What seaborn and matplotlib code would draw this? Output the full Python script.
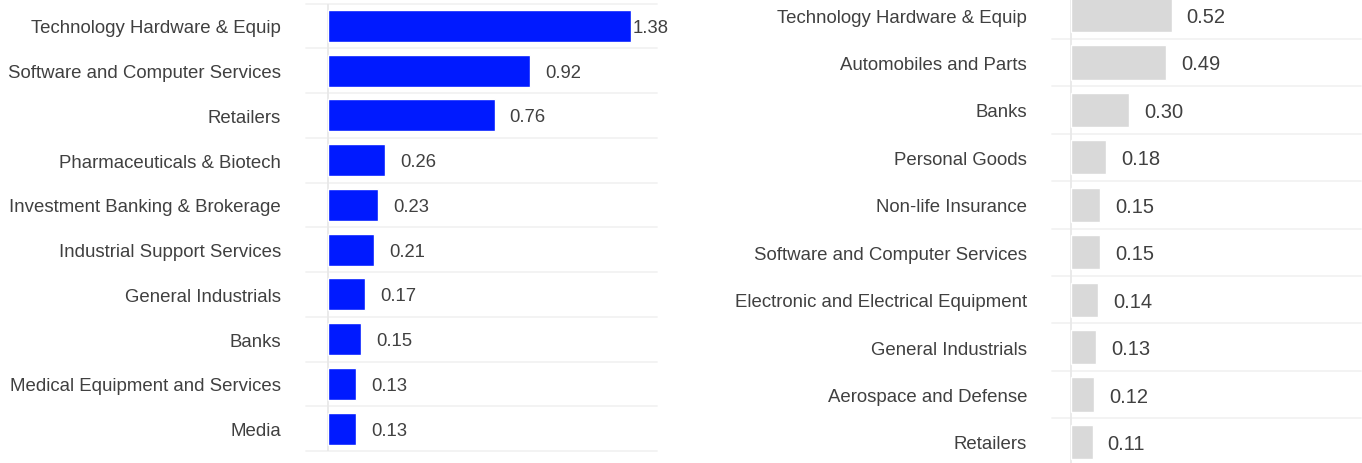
import matplotlib
matplotlib.use("Agg")
import matplotlib.pyplot as plt
import seaborn as sns
import pandas as pd
import numpy as np

# Sector contributions, top ten for each group
left_sectors = [
    "Technology Hardware & Equip",
    "Software and Computer Services",
    "Retailers",
    "Pharmaceuticals & Biotech",
    "Investment Banking & Brokerage",
    "Industrial Support Services",
    "General Industrials",
    "Banks",
    "Medical Equipment and Services",
    "Media",
]
left_values = [1.38, 0.92, 0.76, 0.26, 0.23, 0.21, 0.17, 0.15, 0.13, 0.13]

right_sectors = [
    "Technology Hardware & Equip",
    "Automobiles and Parts",
    "Banks",
    "Personal Goods",
    "Non-life Insurance",
    "Software and Computer Services",
    "Electronic and Electrical Equipment",
    "General Industrials",
    "Aerospace and Defense",
    "Retailers",
]
right_values = [0.52, 0.49, 0.30, 0.18, 0.15, 0.15, 0.14, 0.13, 0.12, 0.11]

sns.set_theme(style="white")
plt.rcParams["font.family"] = ["Liberation Sans", "DejaVu Sans"]

W, H = 1362, 464
fig = plt.figure(figsize=(W / 100, H / 100), dpi=100)
fig.patch.set_facecolor("white")

ax_l = fig.add_axes([306 / W, 12 / H, 351 / W, 447.5 / H])
ax_r = fig.add_axes([1052 / W, -2.7 / H, 309 / W, 474.4 / H])

TEXT = "#404040"


def draw_panel(ax, sectors, values, color, value_size):
    df = pd.DataFrame({"sector": sectors, "value": values})
    sns.barplot(data=df, x="value", y="sector", ax=ax, color=color,
                width=0.72, saturation=1, orient="h", zorder=3)
    ax.set_xlim(-0.1, 1.5)
    ax.set_ylim(len(sectors) - 0.5, -0.5)
    for s in ax.spines.values():
        s.set_visible(False)
    ax.set_xticks([])
    ax.set_xlabel("")
    ax.set_ylabel("")
    ax.tick_params(axis="y", length=0, pad=18, labelsize=13.4,
                   labelcolor=TEXT)
    ax.set_facecolor("none")

    # row separators and the zero line
    for b in np.arange(-0.5, len(sectors)):
        ax.axhline(b, color="#F2F2F2", lw=1.3, zorder=0, clip_on=False)
    ax.axvline(0, color="#E8E8E8", lw=1.3, zorder=1)

    # value labels just past each bar, pulled in where there is no room
    right_px = ax.transAxes.transform((1, 0))[0]
    size_px = value_size * 100 / 72
    for i, v in enumerate(values):
        label = f"{v:.2f}"
        end_px = ax.transData.transform((v, 0))[0]
        est_w = len(label) * 0.5 * size_px
        gap_px = 15 if end_px + 15 + est_w <= right_px + 5 else 2
        ax.annotate(label, xy=(v, i),
                    xytext=(gap_px * 72 / 100, -1.5 * 72 / 100),
                    textcoords="offset points", ha="left", va="center",
                    fontsize=value_size, color=TEXT, annotation_clip=False)


draw_panel(ax_l, left_sectors, left_values, "#001AFF", 13.3)
draw_panel(ax_r, right_sectors, right_values, "#D9D9D9", 14.5)

fig.savefig("out.png", dpi=100, facecolor="white")
